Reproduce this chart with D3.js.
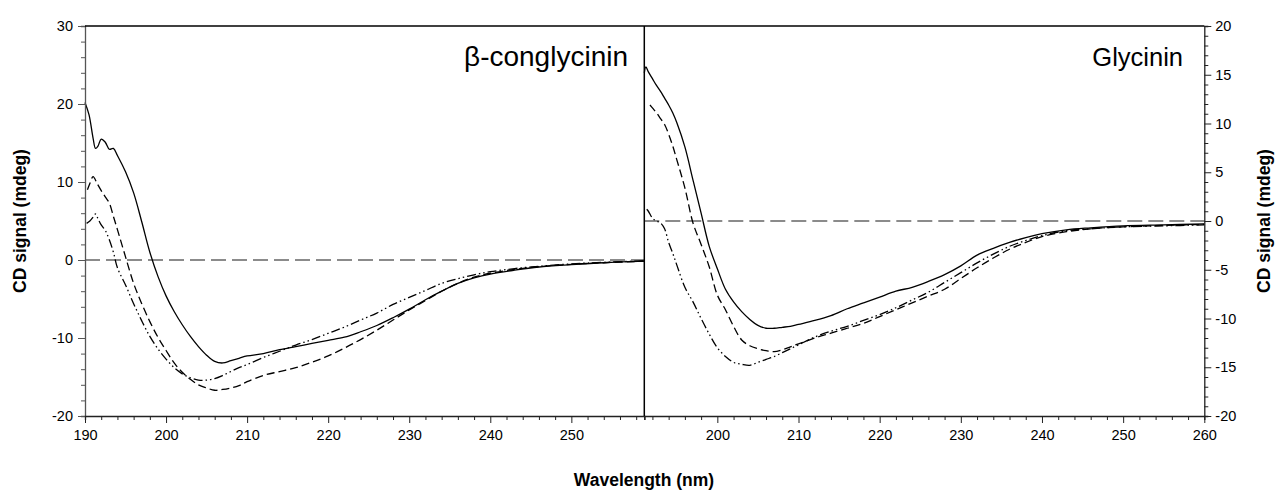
<!DOCTYPE html>
<html>
<head>
<meta charset="utf-8">
<script src="https://cdn.jsdelivr.net/npm/d3@7"></script>
<style>
  html, body { margin: 0; padding: 0; background: #fff; }
  svg { display: block; font-family: "Liberation Sans", Arial, sans-serif; }
</style>
</head>
<body>
<svg id="chart" width="1279" height="493"></svg>
<script>
// ---- β-conglycinin spectra (wavelength in nm, CD signal in mdeg) ----
const betaSolidNm = [190, 190.5, 191, 191.3, 191.6, 192, 192.5, 193, 193.5, 194, 195, 196, 197, 198, 199, 200, 201, 202, 203, 204, 205, 206, 207, 208, 209, 210, 212, 214, 216, 218, 220, 222, 224, 226, 228, 230, 232, 234, 236, 238, 240, 243, 246, 250, 254, 259];
const betaSolidCD = [20.2, 18.6, 15.6, 14.3, 14.6, 15.5, 15.1, 14.2, 14.3, 13.4, 11.3, 8.6, 4.9, 1.0, -2.1, -4.6, -6.6, -8.3, -9.8, -11.1, -12.2, -13.0, -13.2, -12.9, -12.6, -12.3, -12.0, -11.5, -11.1, -10.7, -10.3, -9.9, -9.2, -8.4, -7.4, -6.3, -5.1, -4.0, -3.0, -2.3, -1.8, -1.3, -0.9, -0.6, -0.35, -0.15];

const betaDashNm = [190.3, 190.6, 191, 191.5, 192, 192.5, 193, 193.5, 194, 195, 196, 197, 198, 199, 200, 201, 202, 203, 204, 205, 206, 207, 208, 209, 210, 212, 214, 216, 218, 220, 222, 224, 226, 228, 230, 232, 234, 236, 238, 240, 243, 246, 250, 254, 259];
const betaDashCD = [9.0, 9.8, 10.7, 9.8, 8.9, 8.1, 7.3, 5.6, 3.9, 0.4, -3.0, -5.6, -7.9, -9.9, -11.6, -13.2, -14.4, -15.3, -16.0, -16.4, -16.7, -16.6, -16.4, -16.1, -15.6, -14.8, -14.3, -13.8, -13.1, -12.3, -11.3, -10.2, -9.0, -7.7, -6.4, -5.2, -4.0, -3.0, -2.2, -1.7, -1.2, -0.85, -0.55, -0.35, -0.15];

const betaDotNm = [190.2, 190.6, 191, 191.3, 191.6, 192, 192.5, 193, 193.5, 194, 195, 196, 197, 198, 199, 200, 201, 202, 203, 204, 205, 206, 207, 208, 209, 210, 212, 214, 216, 218, 220, 222, 224, 226, 228, 230, 232, 234, 236, 238, 240, 243, 246, 250, 254, 259];
const betaDotCD = [4.7, 5.0, 5.5, 5.9, 5.3, 4.5, 3.8, 2.6, 1.0, -1.0, -3.2, -5.6, -7.8, -9.8, -11.4, -12.7, -13.8, -14.6, -15.1, -15.4, -15.4, -15.2, -14.8, -14.3, -13.8, -13.4, -12.5, -11.7, -10.9, -10.2, -9.4, -8.6, -7.7, -6.8, -5.7, -4.8, -3.9, -3.0, -2.4, -1.9, -1.5, -1.1, -0.8, -0.5, -0.3, -0.1];

// ---- Glycinin spectra ----
const glySolidNm = [191, 191.2, 191.5, 192, 192.5, 193, 193.5, 194, 194.5, 195, 196, 197, 198, 199, 200, 201, 202, 203, 204, 205, 206, 207, 208, 209, 210, 212, 214, 216, 218, 220, 222, 224, 226, 228, 230, 232, 234, 236, 238, 240, 243, 246, 250, 255, 260];
const glySolidCD = [15.2, 15.8, 15.3, 14.6, 13.9, 13.3, 12.6, 11.9, 11.1, 10.1, 7.6, 4.2, 0.8, -2.6, -4.9, -7.0, -8.3, -9.3, -10.1, -10.7, -11.0, -11.0, -10.9, -10.8, -10.6, -10.2, -9.7, -9.0, -8.4, -7.8, -7.2, -6.8, -6.2, -5.5, -4.6, -3.5, -2.8, -2.2, -1.7, -1.3, -0.9, -0.7, -0.5, -0.4, -0.3];

const glyDashNm = [191.7, 192, 192.5, 193, 193.5, 194, 194.5, 195, 196, 197, 198, 199, 200, 201, 202, 203, 204, 205, 206, 207, 208, 209, 210, 212, 214, 216, 218, 220, 222, 224, 226, 228, 230, 232, 234, 236, 238, 240, 243, 246, 250, 255, 260];
const glyDashCD = [11.9, 11.6, 11.1, 10.5, 9.9, 8.9, 7.7, 6.3, 3.4, -0.2, -2.4, -4.7, -7.6, -9.1, -10.8, -12.2, -12.8, -13.1, -13.3, -13.4, -13.2, -12.9, -12.6, -12.0, -11.5, -11.0, -10.5, -9.8, -9.1, -8.4, -7.7, -7.0, -5.9, -4.8, -3.8, -2.9, -2.2, -1.6, -1.1, -0.8, -0.6, -0.45, -0.35];

const glyDotNm = [191.3, 191.5, 192, 192.5, 193, 193.5, 194, 194.5, 195, 196, 197, 198, 199, 200, 201, 202, 203, 204, 205, 206, 207, 208, 209, 210, 212, 214, 216, 218, 220, 222, 224, 226, 228, 230, 232, 234, 236, 238, 240, 243, 246, 250, 255, 260];
const glyDotCD = [1.2, 1.0, 0.3, 0.0, -0.2, -0.8, -2.2, -3.3, -4.5, -6.8, -8.3, -10.0, -11.6, -13.0, -13.9, -14.5, -14.7, -14.8, -14.5, -14.2, -13.9, -13.5, -13.1, -12.7, -11.9, -11.3, -10.8, -10.2, -9.6, -8.9, -8.1, -7.3, -6.3, -5.3, -4.3, -3.4, -2.6, -2.0, -1.5, -1.0, -0.8, -0.6, -0.5, -0.4];

// ---- axis ticks and labels ----
const leftXTicks = [190, 200, 210, 220, 230, 240, 250];
const rightXTicks = [200, 210, 220, 230, 240, 250, 260];
const leftYTicks = [30, 20, 10, 0, -10, -20];
const rightYTicks = [20, 15, 10, 5, 0, -5, -10, -15, -20];
const panelTitles = ["β-conglycinin", "Glycinin"];
const yTitle = "CD signal (mdeg)";
const xTitle = "Wavelength (nm)";

const svg = d3.select("#chart");

const plotTop = 26, plotBottom = 416, xLeft0 = 85, xMid = 644.3, xRight1 = 1204.3;

const xL = d3.scaleLinear().domain([190, 259]).range([xLeft0, xMid]);
const xR = d3.scaleLinear().domain([191, 260]).range([xMid, xRight1]);
const yL = d3.scaleLinear().domain([-20, 30]).range([plotBottom, plotTop]);
const yR = d3.scaleLinear().domain([-20, 20]).range([plotBottom, plotTop]);

const dashStyles = {
  solid: null,
  dash: "8,4",
  dot: "9,3,1.5,3,1.5,3"
};

function zip(nm, cd) { return nm.map((d, i) => [d, cd[i]]); }

function drawPanel(xs, ys, series) {
  const g = svg.append("g");
  // zero reference line
  g.append("line")
    .attr("x1", xs.range()[0]).attr("x2", xs.range()[1])
    .attr("y1", ys(0)).attr("y2", ys(0))
    .attr("stroke", "#666").attr("stroke-width", 1.6)
    .attr("stroke-dasharray", "15,6");
  const line = d3.line().x(d => xs(d[0])).y(d => ys(d[1])).curve(d3.curveCatmullRom.alpha(0.5));
  series.forEach(s => {
    g.append("path")
      .datum(zip(s.nm, s.cd))
      .attr("d", line)
      .attr("fill", "none")
      .attr("stroke", "#000")
      .attr("stroke-width", 1.3)
      .attr("stroke-dasharray", dashStyles[s.style]);
  });
}

drawPanel(xL, yL, [
  { nm: betaSolidNm, cd: betaSolidCD, style: "solid" },
  { nm: betaDashNm, cd: betaDashCD, style: "dash" },
  { nm: betaDotNm, cd: betaDotCD, style: "dot" }
]);
drawPanel(xR, yR, [
  { nm: glySolidNm, cd: glySolidCD, style: "solid" },
  { nm: glyDashNm, cd: glyDashCD, style: "dash" },
  { nm: glyDotNm, cd: glyDotCD, style: "dot" }
]);

// ---- axes ----
function styleAxis(sel, color) {
  sel.selectAll("path.domain").attr("stroke", color).attr("stroke-width", 1.3);
  sel.selectAll(".tick line").attr("stroke", color).attr("stroke-width", 1);
  sel.selectAll("text").attr("fill", "#000").attr("font-size", 14.5)
    .attr("font-family", "Liberation Sans, Arial, sans-serif");
}

// left y axis: minor every 2, labels every 10
const gyL = svg.append("g").attr("transform", `translate(${xLeft0},0)`)
  .call(d3.axisLeft(yL).tickValues(d3.range(-20, 31, 2)).tickSizeOuter(0)
    .tickSize(4).tickFormat(d => leftYTicks.includes(d) ? d : ""));
gyL.selectAll(".tick").filter(d => leftYTicks.includes(d)).select("line").attr("x2", -7);
gyL.selectAll(".tick text").attr("x", -12);
styleAxis(gyL, "#555");

// right y axis: minor every 1, labels every 5
const gyR = svg.append("g").attr("transform", `translate(${xRight1},0)`)
  .call(d3.axisRight(yR).tickValues(d3.range(-20, 21, 1)).tickSizeOuter(0)
    .tickSize(4).tickFormat(d => rightYTicks.includes(d) ? d : ""));
gyR.selectAll(".tick").filter(d => rightYTicks.includes(d)).select("line").attr("x2", 7);
gyR.selectAll(".tick text").attr("x", 11);
styleAxis(gyR, "#222");

// bottom axes: minor every 2 nm, labels every 10 nm
const gxL = svg.append("g").attr("transform", `translate(0,${plotBottom})`)
  .call(d3.axisBottom(xL).tickValues(d3.range(190, 259, 2)).tickSizeOuter(0)
    .tickSize(4).tickFormat(d => leftXTicks.includes(d) ? d : ""));
gxL.selectAll(".tick").filter(d => leftXTicks.includes(d)).select("line").attr("y2", 7);
gxL.selectAll(".tick text").attr("y", 14);
styleAxis(gxL, "#222");

const gxR = svg.append("g").attr("transform", `translate(0,${plotBottom})`)
  .call(d3.axisBottom(xR).tickValues(d3.range(192, 261, 2)).tickSizeOuter(0)
    .tickSize(4).tickFormat(d => rightXTicks.includes(d) ? d : ""));
gxR.selectAll(".tick").filter(d => rightXTicks.includes(d)).select("line").attr("y2", 7);
gxR.selectAll(".tick text").attr("y", 14);
styleAxis(gxR, "#222");

// frame: top border and panel divider
svg.append("line").attr("x1", xLeft0).attr("x2", xRight1).attr("y1", plotTop).attr("y2", plotTop)
  .attr("stroke", "#000").attr("stroke-width", 1.3);
svg.append("line").attr("x1", xMid).attr("x2", xMid).attr("y1", plotTop).attr("y2", plotBottom)
  .attr("stroke", "#000").attr("stroke-width", 1.5);

// panel titles
svg.append("text").attr("x", 628).attr("y", 66).attr("text-anchor", "end")
  .attr("font-size", 28).text(panelTitles[0]);
svg.append("text").attr("x", 1183).attr("y", 66).attr("text-anchor", "end")
  .attr("font-size", 25.5).text(panelTitles[1]);

// axis titles
svg.append("text").attr("transform", `translate(26,221) rotate(-90)`)
  .attr("text-anchor", "middle").attr("font-weight", "bold").attr("font-size", 17.5)
  .text(yTitle);
svg.append("text").attr("transform", `translate(1270,221) rotate(-90)`)
  .attr("text-anchor", "middle").attr("font-weight", "bold").attr("font-size", 17.5)
  .text(yTitle);
svg.append("text").attr("x", 644).attr("y", 486)
  .attr("text-anchor", "middle").attr("font-weight", "bold").attr("font-size", 17.5)
  .text(xTitle);
</script>
</body>
</html>
